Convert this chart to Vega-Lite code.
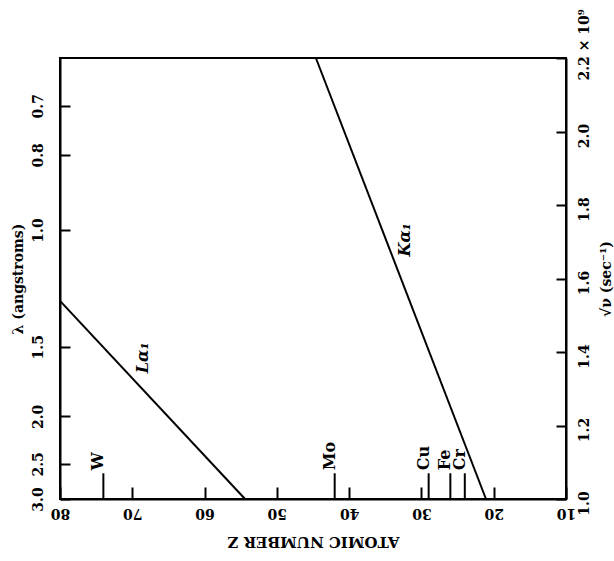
{
  "$schema": "https://vega.github.io/schema/vega-lite/v6.json",
  "width": 506,
  "height": 441,
  "autosize": {"type": "none"},
  "padding": {"left": 60, "top": 58, "right": 48, "bottom": 62},
  "background": "white",
  "config": {
    "view": {"stroke": "black", "strokeWidth": 2},
    "font": "DejaVu Serif",
    "axis": {
      "grid": false,
      "domainColor": "black",
      "domainWidth": 2,
      "tickColor": "black",
      "tickWidth": 2,
      "labelColor": "black",
      "titleColor": "black",
      "labelFont": "DejaVu Serif",
      "titleFont": "DejaVu Serif",
      "labelFontSize": 14,
      "labelFontWeight": "bold",
      "titleFontSize": 14,
      "titleFontWeight": "bold"
    }
  },
  "datasets": {
    "lambda": [
      {"Z": 80, "lam": 3.0},
      {"Z": 80, "lam": 0.6198}
    ],
    "lines": [
      {"series": "Ka1", "Z": 44.6, "s": 2.2},
      {"series": "Ka1", "Z": 21.07, "s": 1.0},
      {"series": "La1", "Z": 80, "s": 1.539},
      {"series": "La1", "Z": 54.4, "s": 1.0}
    ],
    "markers": [
      {"el": "W", "Z": 74, "s": 1.07, "s0": 1.0},
      {"el": "Mo", "Z": 42, "s": 1.07, "s0": 1.0},
      {"el": "Cu", "Z": 29, "s": 1.07, "s0": 1.0},
      {"el": "Fe", "Z": 26, "s": 1.07, "s0": 1.0},
      {"el": "Cr", "Z": 24, "s": 1.07, "s0": 1.0}
    ],
    "lineLabels": [
      {"label": "Kα₁", "Z": 32.3, "s": 1.705},
      {"label": "Lα₁", "Z": 68.5, "s": 1.384}
    ]
  },
  "encoding": {
    "x": {
      "field": "Z",
      "type": "quantitative",
      "scale": {"domain": [80, 10], "nice": false, "zero": false},
      "axis": {
        "orient": "bottom",
        "values": [80, 70, 60, 50, 40, 30, 20, 10],
        "tickSize": -12,
        "labelAngle": 180,
        "labelAlign": "center",
        "labelBaseline": "bottom",
        "labelPadding": 18,
        "labelFlush": false,
        "title": "ATOMIC NUMBER Z",
        "titleFontSize": 15,
        "titleAngle": 180,
        "titleBaseline": "bottom",
        "titlePadding": 14
      }
    }
  },
  "layer": [
    {
      "data": {"name": "lambda"},
      "mark": {"type": "point", "opacity": 0},
      "encoding": {
        "y": {
          "field": "lam",
          "type": "quantitative",
          "scale": {"type": "pow", "exponent": -0.5, "domain": [3.0, 0.6198], "zero": false, "nice": false},
          "axis": {
            "orient": "left",
            "values": [3.0, 2.5, 2.0, 1.5, 1.0, 0.8, 0.7],
            "format": ".1f",
            "tickSize": -10,
            "labelAngle": -90,
            "labelAlign": "center",
            "labelBaseline": "bottom",
            "labelPadding": 25,
            "title": "λ (angstroms)",
            "titleAngle": -90,
            "titleBaseline": "bottom",
            "titlePadding": 6
          }
        }
      }
    },
    {
      "encoding": {
        "y": {
          "field": "s",
          "type": "quantitative",
          "scale": {"domain": [1.0, 2.2], "zero": false, "nice": false},
          "axis": {
            "orient": "right",
            "values": [1.0, 1.2, 1.4, 1.6, 1.8, 2.0, 2.2],
            "labelExpr": "datum.value > 2.19 ? '2.2 × 10⁹' : format(datum.value, '.1f')",
            "tickSize": -10,
            "labelAngle": -90,
            "labelFlush": false,
            "labelAlign": {"condition": {"test": "datum.value > 2.19", "value": "left"}, "value": "center"},
            "labelOffset": {"condition": {"test": "datum.value > 2.19", "value": 22}, "value": 4},
            "labelBaseline": "top",
            "labelPadding": 21,
            "title": "√ν (sec⁻¹)",
            "titleAngle": -90,
            "titleBaseline": "top",
            "titlePadding": 8
          }
        }
      },
      "layer": [
        {
          "data": {"name": "lines"},
          "mark": {"type": "line", "color": "black", "strokeWidth": 2},
          "encoding": {"detail": {"field": "series"}}
        },
        {
          "data": {"name": "markers"},
          "mark": {"type": "rule", "color": "black", "strokeWidth": 2},
          "encoding": {"y2": {"field": "s0"}}
        },
        {
          "data": {"name": "markers"},
          "mark": {"type": "text", "angle": -90, "align": "left", "baseline": "alphabetic", "dx": 3, "fontSize": 16, "fontWeight": "bold", "color": "black", "font": "DejaVu Serif"},
          "encoding": {"text": {"field": "el"}}
        },
        {
          "data": {"name": "lineLabels"},
          "mark": {"type": "text", "angle": -90, "align": "center", "baseline": "middle", "fontSize": 16, "fontStyle": "italic", "fontWeight": "bold", "color": "black", "font": "DejaVu Serif"},
          "encoding": {"text": {"field": "label"}}
        }
      ]
    }
  ],
  "resolve": {"scale": {"y": "independent"}}
}
